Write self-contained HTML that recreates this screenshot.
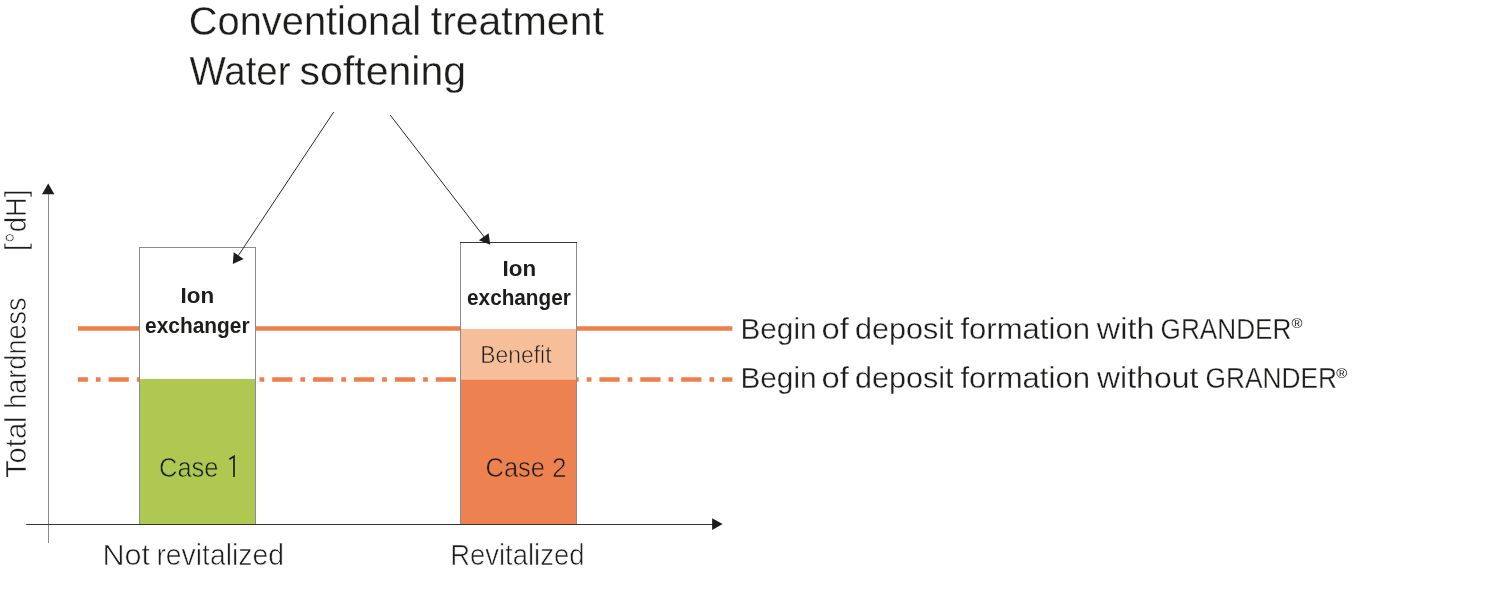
<!DOCTYPE html>
<html>
<head>
<meta charset="utf-8">
<style>
html,body{margin:0;padding:0;background:#fff;}
body{width:1507px;height:606px;overflow:hidden;}
svg{display:block;will-change:transform;}
text{font-family:"Liberation Sans",sans-serif;fill:#1d1d1b;}
</style>
</head>
<body>
<svg width="1507" height="606" viewBox="0 0 1507 606">
<rect x="0" y="0" width="1507" height="606" fill="#fff"/>

<!-- orange lines -->
<line x1="77.9" y1="328.55" x2="732.4" y2="328.55" stroke="#ee7f4b" stroke-width="4.6"/>
<line x1="77.8" y1="379.4" x2="732.4" y2="379.4" stroke="#ee7f4b" stroke-width="4.5" stroke-dasharray="20.2 8 4.7 8" stroke-dashoffset="10.1"/>

<!-- bar 1 -->
<rect x="139.5" y="247.5" width="116" height="277" fill="#fff" stroke="#8c8c8c" stroke-width="1"/>
<rect x="140" y="379" width="115" height="145" fill="#aec851"/>

<!-- bar 2 -->
<rect x="460.5" y="242.5" width="116" height="282" fill="#fff" stroke="#8c8c8c" stroke-width="1"/>
<line x1="460" y1="242.5" x2="577" y2="242.5" stroke="#3a3a3a" stroke-width="1"/>
<rect x="461" y="329" width="115" height="50.5" fill="#f6bf9a"/>
<rect x="461" y="379.5" width="115" height="145" fill="#ee8150"/>

<!-- pointer lines -->
<line x1="333.7" y1="112" x2="237" y2="257.5" stroke="#2b2b2b" stroke-width="1"/>
<polygon points="232.8,263.9 233.7,252.3 243.6,258.9" fill="#1d1d1b"/>
<line x1="390.3" y1="115.2" x2="485" y2="238" stroke="#2b2b2b" stroke-width="1"/>
<polygon points="490.3,244.75 478.9,240.2 488.6,233.2" fill="#1d1d1b"/>

<!-- axes -->
<line x1="48.5" y1="193" x2="48.5" y2="543" stroke="#8c8c8c" stroke-width="1"/>
<polygon points="48.2,183.6 42,194.3 54.4,194.3" fill="#1d1d1b"/>
<line x1="26.2" y1="524.5" x2="713" y2="524.5" stroke="#333" stroke-width="1"/>
<polygon points="722.6,524 712.1,518.2 712.1,529.9" fill="#1d1d1b"/>

<text x="188.80" y="35.00" font-size="40.2" stroke="#fff" stroke-width="0.3" textLength="232.40" lengthAdjust="spacingAndGlyphs">Conventional</text>
<text x="430.80" y="35.00" font-size="40.2" stroke="#fff" stroke-width="0.3" textLength="173.00" lengthAdjust="spacingAndGlyphs">treatment</text>
<text x="189.40" y="85.10" font-size="40.2" stroke="#fff" stroke-width="0.3" textLength="101.20" lengthAdjust="spacingAndGlyphs">Water</text>
<text x="299.60" y="85.10" font-size="40.2" stroke="#fff" stroke-width="0.3" textLength="166.40" lengthAdjust="spacingAndGlyphs">softening</text>
<text x="180.60" y="302.80" font-size="22.8" font-weight="bold" textLength="33.60" lengthAdjust="spacingAndGlyphs">Ion</text>
<text x="502.60" y="275.90" font-size="22.8" font-weight="bold" textLength="33.60" lengthAdjust="spacingAndGlyphs">Ion</text>
<text x="145.10" y="332.50" font-size="22.8" font-weight="bold" textLength="104.50" lengthAdjust="spacingAndGlyphs">exchanger</text>
<text x="467.10" y="305.40" font-size="22.8" font-weight="bold" textLength="103.70" lengthAdjust="spacingAndGlyphs">exchanger</text>
<text x="480.30" y="362.80" font-size="23.3" stroke="#f6bf9a" stroke-width="0.6" textLength="71.20" lengthAdjust="spacingAndGlyphs">Benefit</text>
<text x="159.00" y="476.80" font-size="28.3" stroke="#aec851" stroke-width="0.6" textLength="59.50" lengthAdjust="spacingAndGlyphs">Case</text>
<text x="485.50" y="476.80" font-size="28.3" stroke="#ee8150" stroke-width="0.6" textLength="59.50" lengthAdjust="spacingAndGlyphs">Case</text>
<text x="552.00" y="476.80" font-size="28.3" stroke="#ee8150" stroke-width="0.6" textLength="14.50" lengthAdjust="spacingAndGlyphs">2</text>
<text x="102.40" y="565.20" font-size="28.7" stroke="#fff" stroke-width="0.6" textLength="47.60" lengthAdjust="spacingAndGlyphs">Not</text>
<text x="156.40" y="565.20" font-size="28.7" stroke="#fff" stroke-width="0.6" textLength="127.60" lengthAdjust="spacingAndGlyphs">revitalized</text>
<text x="450.20" y="564.80" font-size="28.7" stroke="#fff" stroke-width="0.6" textLength="134.30" lengthAdjust="spacingAndGlyphs">Revitalized</text>
<text transform="translate(25.90,478.00) rotate(-90)" x="0" y="0" font-size="28.7" stroke="#fff" stroke-width="0.6" textLength="61.60" lengthAdjust="spacingAndGlyphs">Total</text>
<text transform="translate(25.90,408.80) rotate(-90)" x="0" y="0" font-size="28.7" stroke="#fff" stroke-width="0.6" textLength="111.40" lengthAdjust="spacingAndGlyphs">hardness</text>
<text transform="translate(25.90,251.00) rotate(-90)" x="0" y="0" font-size="28.7" stroke="#fff" stroke-width="0.6" textLength="61.50" lengthAdjust="spacingAndGlyphs">[°dH]</text>
<text x="740.40" y="338.50" font-size="28.7" stroke="#fff" stroke-width="0.3" textLength="76.20" lengthAdjust="spacingAndGlyphs">Begin</text>
<text x="740.40" y="388.40" font-size="28.7" stroke="#fff" stroke-width="0.3" textLength="76.20" lengthAdjust="spacingAndGlyphs">Begin</text>
<text x="821.60" y="338.50" font-size="28.7" stroke="#fff" stroke-width="0.3" textLength="27.40" lengthAdjust="spacingAndGlyphs">of</text>
<text x="821.60" y="388.40" font-size="28.7" stroke="#fff" stroke-width="0.3" textLength="27.40" lengthAdjust="spacingAndGlyphs">of</text>
<text x="855.00" y="338.50" font-size="28.7" stroke="#fff" stroke-width="0.3" textLength="98.60" lengthAdjust="spacingAndGlyphs">deposit</text>
<text x="855.00" y="388.40" font-size="28.7" stroke="#fff" stroke-width="0.3" textLength="98.60" lengthAdjust="spacingAndGlyphs">deposit</text>
<text x="960.40" y="338.50" font-size="28.7" stroke="#fff" stroke-width="0.3" textLength="129.60" lengthAdjust="spacingAndGlyphs">formation</text>
<text x="960.40" y="388.40" font-size="28.7" stroke="#fff" stroke-width="0.3" textLength="129.60" lengthAdjust="spacingAndGlyphs">formation</text>
<text x="1096.80" y="338.50" font-size="28.7" stroke="#fff" stroke-width="0.3" textLength="57.60" lengthAdjust="spacingAndGlyphs">with</text>
<text x="1160.60" y="338.50" font-size="28.7" stroke="#fff" stroke-width="0.3" textLength="130.80" lengthAdjust="spacingAndGlyphs">GRANDER</text>
<text x="1097.00" y="388.40" font-size="28.7" stroke="#fff" stroke-width="0.3" textLength="101.40" lengthAdjust="spacingAndGlyphs">without</text>
<text x="1205.60" y="388.40" font-size="28.7" stroke="#fff" stroke-width="0.3" textLength="131.40" lengthAdjust="spacingAndGlyphs">GRANDER</text>
<text x="1291.50" y="328.20" font-size="13.5" textLength="11.00" lengthAdjust="spacingAndGlyphs">®</text>
<text x="1336.20" y="378.00" font-size="13.5" textLength="11.00" lengthAdjust="spacingAndGlyphs">®</text>
<path d="M229.4,459.2 L234,456.2 L234,476.9" fill="none" stroke="#1d1d1b" stroke-width="1.7" stroke-linejoin="miter"/>
</svg>
</body>
</html>
